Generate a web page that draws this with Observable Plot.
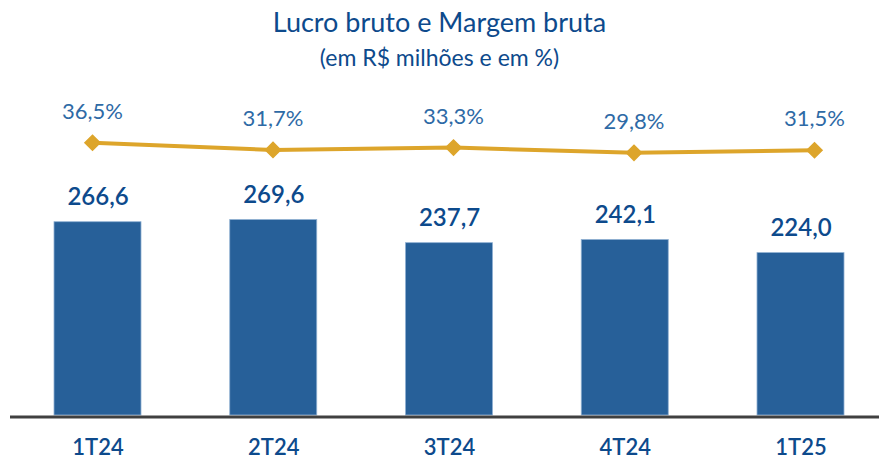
<!DOCTYPE html>
<html>
<head>
<meta charset="utf-8">
<script src="https://cdn.jsdelivr.net/npm/d3@7"></script>
<script src="https://cdn.jsdelivr.net/npm/@observablehq/plot@0.6"></script>
<style>
  html, body { margin: 0; padding: 0; background: #fff; }
  #wrap { width: 879px; height: 462px; position: relative; font-family: Lato, "Open Sans", sans-serif; overflow: hidden; }
  #title { position: absolute; left: 0; width: 879px; top: 4px; text-align: center; color: #0D4A8C; font-size: 27px; line-height: 36px; }
  #subtitle { position: absolute; left: 0; width: 879px; top: 42px; text-align: center; color: #0D4A8C; font-size: 23px; line-height: 30px; }
  #charts { position: absolute; left: 0; top: 80px; width: 879px; height: 382px; }
  #charts svg { position: absolute; left: 0; top: 0; }
</style>
</head>
<body>
<div id="wrap">
  <div id="title">Lucro bruto e Margem bruta</div>
  <div id="subtitle">(em R$ milhões e em %)</div>
  <div id="charts"></div>
</div>
<script>
const quarters = ["1T24", "2T24", "3T24", "4T24", "1T25"];
const lucroBruto = [266.6, 269.6, 237.7, 242.1, 224.0];
const margemBruta = [36.5, 31.7, 33.3, 29.8, 31.5];

const fmt1 = v => v.toFixed(1).replace(".", ",");
const barData = quarters.map((q, i) => ({q, v: lucroBruto[i]}));
const lineData = quarters.map((q, i) => ({q, m: margemBruta[i]}));

const W = 879, H = 382;
const font = "Lato, 'Open Sans', sans-serif";

const bars = Plot.plot({
  width: W, height: H,
  marginLeft: 54, marginRight: 35, marginTop: 45, marginBottom: 47,
  style: {fontFamily: font, background: "transparent", overflow: "visible"},
  x: {domain: quarters, paddingInner: 0.505, paddingOuter: 0, round: false, label: null},
  y: {domain: [0, 400], axis: null},
  marks: [
    Plot.barY(barData, {x: "q", y: "v", fill: "#276099", stroke: "#8FB0D2", strokeWidth: 0.8}),
    Plot.ruleY([0], {stroke: "#404040", strokeWidth: 3, insetLeft: -44, insetRight: -35, dy: 1.5}),
    Plot.text(barData, {x: "q", y: "v", text: d => fmt1(d.v), dy: -25, fill: "#0D4A8C", fontSize: 24, fontWeight: 600}),
    Plot.axisX({tickSize: 0, tickPadding: 24, fontSize: 22, fontWeight: 600, color: "#0D4A8C", label: null})
  ]
});

const line = Plot.plot({
  width: W, height: H,
  marginLeft: 92, marginRight: 65, marginTop: 57, marginBottom: 265,
  style: {fontFamily: font, background: "transparent", overflow: "visible"},
  x: {type: "point", domain: quarters, padding: 0, round: false, axis: null},
  y: {domain: [0, 40], axis: null},
  marks: [
    Plot.line(lineData, {x: "q", y: "m", stroke: "#DDA52B", strokeWidth: 4}),
    Plot.dot(lineData, {x: "q", y: "m", symbol: "diamond2", r: 6.8, fill: "#DDA52B", stroke: "#DDA52B"}),
    Plot.text(lineData, {x: "q", y: "m", text: d => fmt1(d.m) + "%", dy: -31, fill: "#2E6AA6", fontSize: 22})
  ]
});

const charts = document.getElementById("charts");
charts.appendChild(bars);
charts.appendChild(line);
</script>
</body>
</html>
